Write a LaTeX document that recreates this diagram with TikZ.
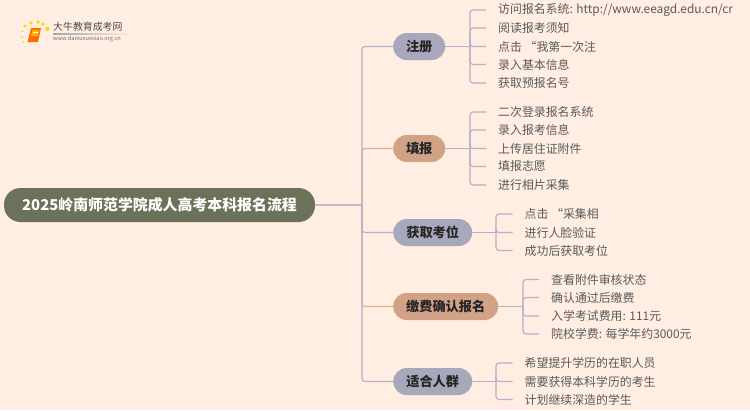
\documentclass[tikz,border=0pt]{standalone}
\usepackage{fontspec}
\setmainfont{Noto Sans CJK SC}
\usetikzlibrary{shadings}
\definecolor{bgc}{HTML}{FFEEE1}
\definecolor{rootc}{HTML}{6B7259}
\definecolor{greyc}{HTML}{A8A8BC}
\definecolor{salmc}{HTML}{D2A286}
\definecolor{linec}{HTML}{B2B2CA}
\definecolor{lsalm}{HTML}{E2AE90}
\definecolor{lroot}{HTML}{C8BCCF}
\definecolor{txtc}{HTML}{5A5A5A}
\tikzset{
 rootbox/.style={rounded corners=16.5pt,fill=rootc,text=white,font=\fontsize{14.9}{16}\selectfont\bfseries,minimum height=34pt,inner sep=0pt},
 pillbase/.style={rounded corners=13.5pt,minimum height=27pt,inner sep=0pt,text=black!85,font=\fontsize{13.2}{15}\selectfont\bfseries,anchor=west},
 pillg/.style={pillbase,fill=greyc},
 pills/.style={pillbase,fill=salmc},
 leaf/.style={anchor=west,inner xsep=12pt,inner ysep=0pt,text=txtc,font=\fontsize{11.9}{14}\selectfont},
 conn/.style={line width=1.2pt,draw=linec,rounded corners=3pt},
 conns/.style={line width=1.2pt,draw=lsalm,rounded corners=3pt},
}
\begin{document}
\begin{tikzpicture}[x=1pt,y=-1pt]
\fill[bgc] (0,0) rectangle (750,410);
\useasboundingbox (0,0) rectangle (750,410);
% logo
\foreach \a/\b/\r in {25/26/1.6,31/23/1.8,38/22/1.8,43/24/1.8,47.5/29/2.1,22.5/31/1.1,22/37/1,23.5/42/0.8}{\fill[yellow!75!orange] (\a,\b) circle (\r);}
\fill[orange!85!red] (31,28) -- (41,28) -- (38,42) -- (27.5,42) -- cycle;
\fill[orange!60!yellow] (32.5,30) -- (39.5,30) -- (37.5,36) -- (31,36) -- cycle;
\draw[white,line width=.5pt] (33,32) -- (38,32);
\node[anchor=west,inner sep=0pt,text=black!70,font=\fontsize{9.9}{11}\selectfont] (logot) at (53,27) {大牛教育成考网};
\node[anchor=west,inner sep=0pt,text=black!55,font=\fontsize{5.6}{7}\selectfont] (logou) at (53,39) {www.daniuxuexiao.org.cn};
\shade[left color=black!35,right color=bgc] (53,33.4) rectangle (132,34);
% root and pills
\node[rootbox,minimum width=311pt] (root) at (159.5,205) {2025岭南师范学院成人高考本科报名流程};
\node[pillg,minimum width=52pt] (p1) at (393,46.5) {注册};
\node[pills,minimum width=52pt] (p2) at (393,148.5) {填报};
\node[pillg,minimum width=79pt] (p3) at (393,232.5) {获取考位};
\node[pills,minimum width=105pt] (p4) at (393,306.5) {缴费确认报名};
\node[pillg,minimum width=79pt] (p5) at (393,381.5) {适合人群};
\coordinate (hub) at (362,205);
\draw[line width=1.2pt,draw=lroot] (root.east) -- (hub);
\draw[conns] (hub) |- (p2.west);
\draw[conns] (hub) |- (p4.west);
\draw[conn] (hub) |- (p1.west);
\draw[conn] (hub) |- (p3.west);
\draw[conn] (hub) |- (p5.west);
% leaves
\foreach \n/\y/\t in {a1/10/{访问报名系统: http://www.eeagd.edu.cn/cr},a2/28/阅读报考须知,a3/46.5/点击 “我第一次注,a4/64.5/录入基本信息,a5/83/获取预报名号,
 b1/112/二次登录报名系统,b2/130/录入报考信息,b3/148.5/上传居住证附件,b4/166.5/填报志愿,b5/185/进行相片采集}{
 \node[leaf] (\n) at (486,\y) {\t};}
\foreach \n/\y/\t in {c1/214/点击 “采集相,c2/232.5/进行人脸验证,c3/250.5/成功后获取考位,
 e1/363/希望提升学历的在职人员,e2/381.5/需要获得本科学历的考生,e3/399.5/计划继续深造的学生}{
 \node[leaf] (\n) at (512.5,\y) {\t};}
\foreach \n/\y/\t in {d1/279.5/查看附件审核状态,d2/297.5/确认通过后缴费,d3/316/入学考试费用: 111元,d4/334/院校学费: 每学年约3000元}{
 \node[leaf] (\n) at (539,\y) {\t};}
% brackets
\coordinate (ba) at (470,46.5);
\coordinate (bb) at (470,148.5);
\coordinate (bc) at (496,232.5);
\coordinate (bd) at (523,306.5);
\coordinate (be) at (496,381.5);
\foreach \p/\b/\list in {p1/ba/{a1,a2,a3,a4,a5},p2/bb/{b1,b2,b3,b4,b5},p3/bc/{c1,c2,c3},p4/bd/{d1,d2,d3,d4},p5/be/{e1,e2,e3}}{
 \draw[conn] (\p.east) -- (\b);
 \foreach \c in \list {\draw[conn] (\b) |- (\c.west);}
}
\end{tikzpicture}
\end{document}
